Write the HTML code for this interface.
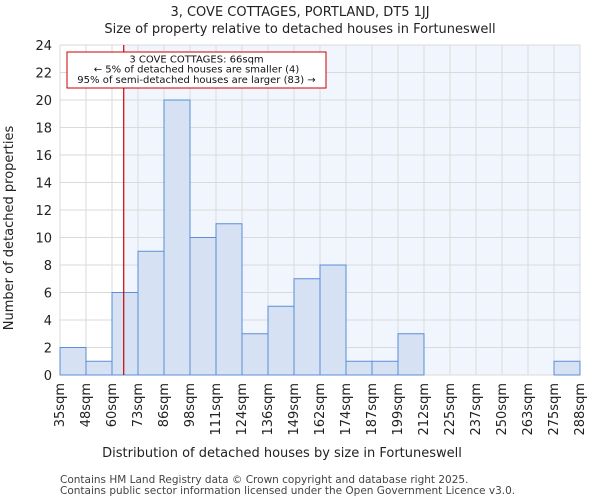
<!DOCTYPE html>
<html><head><meta charset="utf-8"><style>
body{margin:0;background:#fff;font-family:"DejaVu Sans","Liberation Sans",sans-serif;}
</style></head><body>
<svg id="c" width="600" height="500" xmlns="http://www.w3.org/2000/svg" font-family="DejaVu Sans, Liberation Sans, sans-serif"></svg>
<script>
const categories=["35sqm","48sqm","60sqm","73sqm","86sqm","98sqm","111sqm","124sqm","136sqm","149sqm","162sqm","174sqm","187sqm","199sqm","212sqm","225sqm","237sqm","250sqm","263sqm","275sqm","288sqm"];
const counts=[2,1,6,9,20,10,11,3,5,7,8,1,1,3,0,0,0,0,0,1];
const yTicks=[0,2,4,6,8,10,12,14,16,18,20,22,24];
const binStart=35, binWidth=12.65;
const propertySize=66;
const X0=60,X1=580,Y0=375,Y1=45,YMAX=24;
const svg=document.getElementById('c');const NS="http://www.w3.org/2000/svg";
function el(t,a,txt){const e=document.createElementNS(NS,t);for(const k in a)e.setAttribute(k,a[k]);if(txt!==undefined)e.textContent=txt;svg.appendChild(e);return e;}
const bw=(X1-X0)/counts.length;
const xi=i=>X0+i*bw;
const xv=v=>X0+(v-binStart)/binWidth*bw;
const y=v=>Y0-(v/YMAX)*(Y0-Y1);
const px=xv(propertySize);
let e;
e=el('rect',{x:X0,y:Y1,width:X1-X0,height:Y0-Y1,fill:'#fff'});

e=el('rect',{x:px,y:Y1,width:X1-px,height:Y0-Y1,fill:'#f1f5fd'});

for(const t of yTicks){e=el('line',{x1:X0,x2:X1,y1:y(t),y2:y(t),stroke:'#dadada','stroke-width':1});

e=el('text',{x:X0-8,y:y(t)+5,'text-anchor':'end','font-size':13,fill:'#222'},t);
}
for(let i=0;i<=counts.length;i++){e=el('line',{x1:xi(i),x2:xi(i),y1:Y1,y2:Y0,stroke:'#dadada','stroke-width':1});
}
counts.forEach((c,i)=>{if(c<=0)return;
e=el('rect',{x:xi(i),y:y(c),width:bw,height:Y0-y(c),fill:'#d6e1f3',stroke:'#5b8fd6','stroke-width':1});
});
categories.forEach((c,i)=>{const x=xi(i);
e=el('text',{x:x+4,y:Y0+8,'text-anchor':'end','font-size':13,fill:'#222',transform:`rotate(-90 ${x+4} ${Y0+8})`},c);
});
e=el('line',{x1:px,x2:px,y1:Y1,y2:Y0,stroke:'#cc0000','stroke-width':1.2});

e=el('rect',{x:67,y:52,width:259,height:36,fill:'#fff',stroke:'#cc0000','stroke-width':1});

const ann=["3 COVE COTTAGES: 66sqm","← 5% of detached houses are smaller (4)","95% of semi-detached houses are larger (83) →"];
ann.forEach((t,i)=>{e=el('text',{x:196.5,y:62.5+i*10.2,'text-anchor':'middle','font-size':10,fill:'#111'},t);
});
e=el('text',{x:300,y:16,'text-anchor':'middle','font-size':13,fill:'#222'},"3, COVE COTTAGES, PORTLAND, DT5 1JJ");

e=el('text',{x:300,y:33,'text-anchor':'middle','font-size':13,fill:'#222'},"Size of property relative to detached houses in Fortuneswell");

e=el('text',{x:282,y:457,'text-anchor':'middle','font-size':13,fill:'#222'},"Distribution of detached houses by size in Fortuneswell");

e=el('text',{x:13,y:228,'text-anchor':'middle','font-size':13,fill:'#222',transform:'rotate(-90 13 228)'},"Number of detached properties");

e=el('text',{x:60,y:483,'font-size':10.5,fill:'#444'},"Contains HM Land Registry data © Crown copyright and database right 2025.");

e=el('text',{x:60,y:494,'font-size':10.5,fill:'#444'},"Contains public sector information licensed under the Open Government Licence v3.0.");

</script>
</body></html>
